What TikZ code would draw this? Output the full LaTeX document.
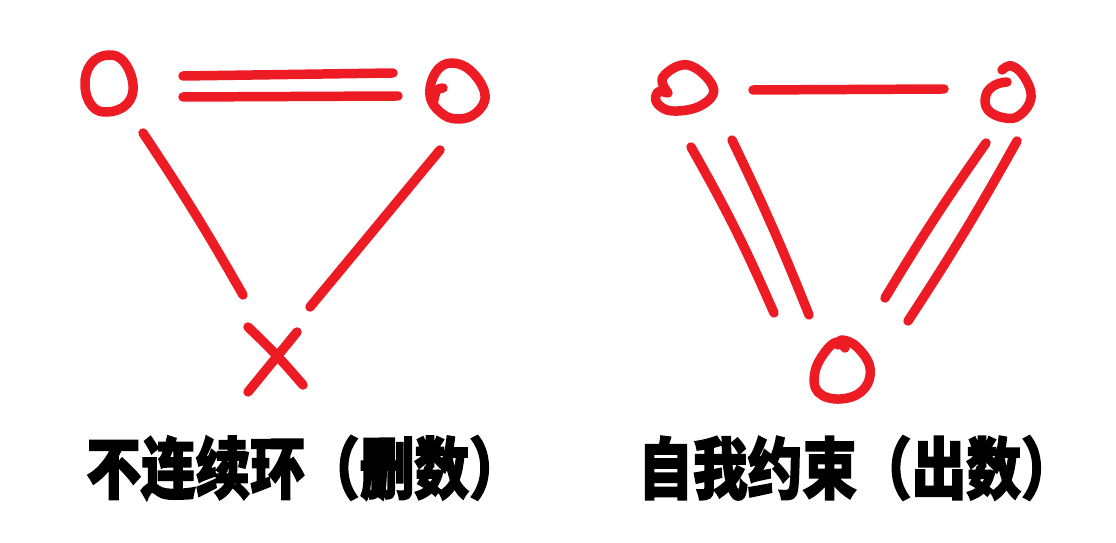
\documentclass[tikz,border=0pt]{standalone}
\usepackage{fontspec}
\newfontfamily\cjk{Noto Sans CJK SC}[BoldFeatures={FakeBold=2.5}]
\definecolor{penred}{RGB}{237,28,36}
\tikzset{
  pen/.style={draw=penred,line width=5.4pt,line cap=round,line join=round},
  caption/.style={font=\cjk\bfseries\fontsize{30.5}{32}\selectfont,inner sep=0pt}
}
\newcommand{\tallcap}[1]{\scalebox{1.02}[1.25]{#1}}

\begin{document}
\begin{tikzpicture}[x=0.02cm,y=-0.02cm]
  \useasboundingbox (0,0) rectangle (1116,543);

  	% left: not a continuous loop
  	\draw[pen] plot[smooth cycle,tension=0.7] coordinates {(108,55) (124,62) (133,85) (127,104) (108,112) (92,106) (85,85) (91,64)};
  	\draw[pen] plot[smooth cycle,tension=0.7] coordinates {(452,63) (472,72) (485,95) (476,113) (457,119) (440,112) (430,95) (436,72)};
  	\draw[pen] (443,88) .. controls (436,89) .. (433,104);

  	\coordinate (dl1) at (183,76);
  	\coordinate (dl2) at (393,73);
  	\coordinate (dl3) at (183,97);
  	\coordinate (dl4) at (398,96);
  	\coordinate (ll1) at (143,133);
  	\coordinate (ll2) at (243,295);
  	\coordinate (lr1) at (440,150);
  	\coordinate (lr2) at (310,307);
  	\coordinate (x1) at (248,327);
  	\coordinate (x2) at (303,385);
  	\coordinate (x3) at (297,332);
  	\coordinate (x4) at (248,392);

  	\path[pen] (dl1) edge (dl2);
  	\path[pen] (dl3) edge (dl4);
  	\path[pen] (ll1) edge[bend left=2] (ll2);
  	\path[pen] (lr1) edge (lr2);
  	\path[pen] (x1) edge[bend left=3] (x2);
  	\path[pen] (x3) edge (x4);

  	\node[caption] (cut) at (305,468) {\tallcap{不连续环（删数）}};

  	% right: self constraint
  	\draw[pen] plot[smooth,tension=0.7] coordinates {(668,93) (663,77) (688,65) (713,87) (702,105) (673,111) (657,103) (658,92) (667,93)};
  	\draw[pen] plot[smooth,tension=0.7] coordinates {(1002,70) (1012,66) (1025,78) (1031,98) (1020,115) (1005,118) (988,110) (986,95) (995,85) (1007,82)};
  	\draw[pen] plot[smooth,tension=0.7] coordinates {(845,348) (837,342) (825,352) (815,372) (818,392) (840,399) (863,390) (870,368) (857,347) (842,340) (838,345)};

  	\coordinate (t1) at (753,90);
  	\coordinate (t2) at (944,89);
  	\coordinate (a1) at (691,147);
  	\coordinate (a2) at (774,313);
  	\coordinate (b1) at (732,140);
  	\coordinate (b2) at (809,315);
  	\coordinate (c1) at (986,143);
  	\coordinate (c2) at (885,298);
  	\coordinate (d1) at (1017,141);
  	\coordinate (d2) at (908,321);

  	\path[pen] (t1) edge (t2);
  	\path[pen] (a1) edge[bend left=3] (a2);
  	\path[pen] (b1) edge[bend left=2] (b2);
  	\path[pen] (c1) edge[bend right=2] (c2);
  	\path[pen] (d1) edge[bend left=2] (d2);

  	\node[caption] (keep) at (857,468) {\tallcap{自我约束（出数）}};

\end{tikzpicture}
\end{document}
